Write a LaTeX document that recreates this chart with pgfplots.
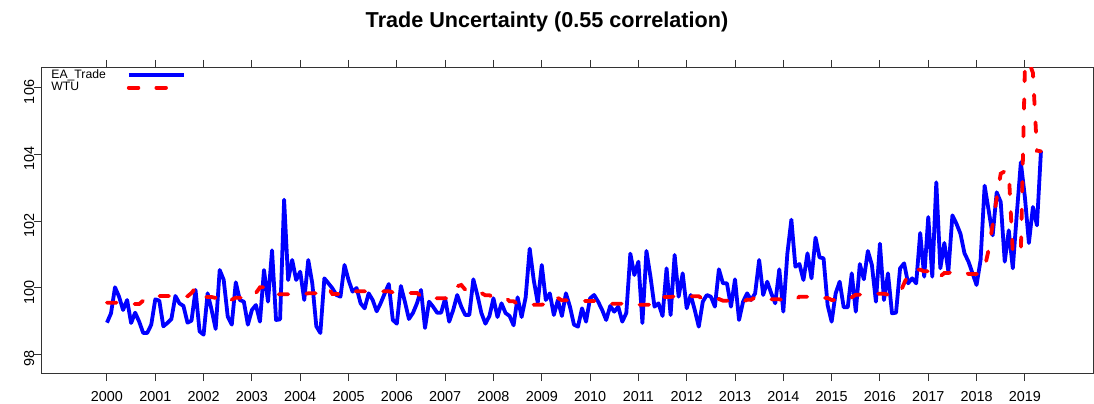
\documentclass[border=0pt]{standalone}
\usepackage{pgfplots}
\pgfplotsset{compat=1.18}
\usepackage{pgfplotstable}
\usepackage{fontspec}
\setmainfont{Liberation Sans}
\pgfplotstableread[row sep=\\]{
ea wtu\\
98.96 99.56\\ 99.24 99.56\\ 100.02 99.56\\ 99.74 99.56\\ 99.34 99.54\\ 99.64 99.52\\ 98.95 99.52\\ 99.26 99.52\\ 98.99 99.52\\ 98.65 99.62\\ 98.65 99.72\\ 98.9 99.72\\
99.66 99.76\\ 99.62 99.76\\ 98.85 99.76\\ 98.95 99.76\\ 99.07 99.76\\ 99.76 99.76\\ 99.54 99.75\\ 99.46 99.75\\ 98.96 99.75\\ 99.02 99.85\\ 99.94 100.0\\ 98.7 99.95\\
98.6 99.73\\ 99.84 99.73\\ 99.34 99.73\\ 98.77 99.7\\ 100.54 99.58\\ 100.24 99.58\\ 99.14 99.58\\ 98.9 99.65\\ 100.17 99.71\\ 99.64 99.71\\ 99.59 99.71\\ 98.9 99.71\\
99.34 99.85\\ 99.49 99.85\\ 98.99 100.02\\ 100.54 100.02\\ 99.59 100.02\\ 101.13 99.9\\ 99.04 99.81\\ 99.06 99.81\\ 102.65 99.81\\ 100.24 99.81\\ 100.84 99.81\\ 100.24 99.82\\
100.49 99.82\\ 99.64 99.82\\ 100.84 99.84\\ 100.14 99.84\\ 98.85 99.84\\ 98.65 99.95\\ 100.29 99.95\\ 100.14 100.0\\ 99.99 99.82\\ 99.79 99.82\\ 99.74 99.82\\ 100.69 99.9\\
100.24 99.9\\ 99.89 99.9\\ 100.0 99.9\\ 99.54 99.9\\ 99.39 99.9\\ 99.84 99.9\\ 99.64 99.9\\ 99.3 99.9\\ 99.55 99.9\\ 99.84 99.9\\ 100.12 99.9\\ 99.04 99.87\\
98.93 99.87\\ 100.06 99.87\\ 99.59 99.85\\ 99.07 99.85\\ 99.25 99.85\\ 99.54 99.85\\ 99.94 99.75\\ 98.8 99.69\\ 99.59 99.69\\ 99.44 99.69\\ 99.26 99.69\\ 99.26 99.69\\
99.69 99.69\\ 98.99 99.7\\ 99.34 99.84\\ 99.79 100.05\\ 99.44 100.09\\ 99.19 99.95\\ 99.19 99.85\\ 100.26 99.85\\ 99.79 99.85\\ 99.25 99.85\\ 98.93 99.78\\ 99.16 99.78\\
99.69 99.72\\ 99.13 99.72\\ 99.54 99.72\\ 99.25 99.72\\ 99.16 99.6\\ 98.88 99.6\\ 99.72 99.52\\ 99.13 99.52\\ 99.72 99.52\\ 101.18 99.52\\ 100.24 99.5\\ 99.56 99.5\\
100.69 99.5\\ 99.64 99.52\\ 99.84 99.7\\ 99.19 99.7\\ 99.64 99.7\\ 99.16 99.63\\ 99.84 99.63\\ 99.44 99.63\\ 98.9 99.63\\ 98.84 99.62\\ 99.39 99.62\\ 98.99 99.61\\
99.69 99.61\\ 99.79 99.61\\ 99.59 99.61\\ 99.34 99.58\\ 99.04 99.58\\ 99.46 99.53\\ 99.29 99.53\\ 99.44 99.53\\ 98.99 99.53\\ 99.25 99.53\\ 101.03 99.52\\ 100.39 99.52\\
100.79 99.5\\ 98.95 99.5\\ 101.11 99.5\\ 100.34 99.5\\ 99.44 99.6\\ 99.54 99.73\\ 99.16 99.73\\ 100.59 99.73\\ 99.19 99.73\\ 100.99 99.75\\ 99.74 99.75\\ 100.44 99.75\\
99.39 99.75\\ 99.79 99.75\\ 99.34 99.75\\ 98.84 99.75\\ 99.59 99.67\\ 99.79 99.67\\ 99.74 99.67\\ 99.44 99.67\\ 100.56 99.67\\ 100.14 99.62\\ 100.14 99.62\\ 99.44 99.58\\
100.26 99.58\\ 99.04 99.58\\ 99.59 99.58\\ 99.84 99.65\\ 99.64 99.65\\ 99.84 99.72\\ 100.84 99.72\\ 99.79 99.72\\ 100.19 99.72\\ 99.84 99.66\\ 99.54 99.66\\ 100.56 99.66\\
99.29 99.64\\ 101.03 99.64\\ 102.05 99.64\\ 100.64 99.64\\ 100.72 99.74\\ 100.24 99.74\\ 101.04 99.74\\ 100.29 99.74\\ 101.51 99.74\\ 100.92 99.7\\ 100.89 99.7\\ 99.49 99.7\\
98.99 99.64\\ 99.84 99.64\\ 100.19 99.64\\ 99.42 99.64\\ 99.42 99.72\\ 100.44 99.72\\ 99.29 99.8\\ 100.72 99.8\\ 100.26 99.8\\ 101.11 99.82\\ 100.69 99.82\\ 99.59 99.83\\
101.33 99.83\\ 99.64 99.83\\ 100.44 99.8\\ 99.24 99.8\\ 99.26 99.8\\ 100.59 99.85\\ 100.74 100.14\\ 100.14 100.4\\ 100.29 100.55\\ 100.14 100.55\\ 101.65 100.55\\ 100.34 100.5\\
102.13 100.5\\ 100.34 100.3\\ 103.17 100.35\\ 100.59 100.35\\ 101.35 100.45\\ 100.49 100.45\\ 102.18 100.48\\ 101.93 100.48\\ 101.63 100.48\\ 101.04 100.48\\ 100.79 100.42\\ 100.44 100.42\\
100.09 100.42\\ 100.84 100.42\\ 103.07 100.6\\ 102.33 101.15\\ 101.58 101.9\\ 102.87 102.7\\ 102.58 103.43\\ 100.79 103.5\\ 101.73 103.5\\ 100.59 101.05\\ 102.23 101.05\\ 103.77 101.05\\
102.73 106.6\\ 101.35 106.8\\ 102.43 106.45\\ 101.88 104.12\\ 104.12 104.1\\
}\data
\begin{document}
\begin{tikzpicture}
\path[use as bounding box] (0pt,0pt) rectangle (547pt,201.5pt);
\begin{axis}[
  at={(21pt,15pt)}, anchor=south west,
  scale only axis, width=525.5pt, height=152.5pt,
  xmin=1998.655, xmax=2020.41, ymin=97.45, ymax=106.6,
  xtick={2000,2001,...,2019}, ytick={98,100,102,104,106},
  xtick pos=both, xticklabel pos=lower, ytick pos=left,
  tick align=outside, major tick length=4pt,
  every tick/.style={black!80, line width=0.5pt},
  axis line style={black!80, line width=0.5pt},
  /pgf/number format/assume math mode=true,
  /pgf/number format/1000 sep={},
  xticklabel style={font=\fontsize{7.2}{8}\selectfont, anchor=base, yshift=-10pt},
  yticklabel style={font=\fontsize{7.2}{8}\selectfont, rotate=90, anchor=base, xshift=-2pt},
  title={Trade Uncertainty (0.55 correlation)},
  title style={at={(0.4805,1)}, anchor=base, yshift=14.2pt, font=\fontsize{10.8}{12}\selectfont\bfseries},
  legend plot pos=right,
  legend cell align=left,
  legend image code/.code={\draw[#1] (0pt,0pt) -- (27.5pt,0pt);},
  legend style={at={(0,1)}, anchor=north west, xshift=1.5pt, yshift=2.5pt, draw=none, fill=none,
    font=\fontsize{6.1}{6.5}\selectfont, inner sep=1pt, row sep=-3.6pt, column sep=8.5pt},
]
\addplot[color={rgb,255:red,0;green,0;blue,255}, line width=1.9pt, line join=round] table[x expr=2000+\coordindex/12, y=ea] {\data};
\addlegendentry{EA\_Trade}
\addplot[color={rgb,255:red,255;green,0;blue,0}, line width=1.9pt, line cap=round, dash pattern=on 4.8pt off 9pt] table[x expr=2000+\coordindex/12, y=wtu] {\data};
\addlegendentry{WTU}
\end{axis}
\end{tikzpicture}
\end{document}
